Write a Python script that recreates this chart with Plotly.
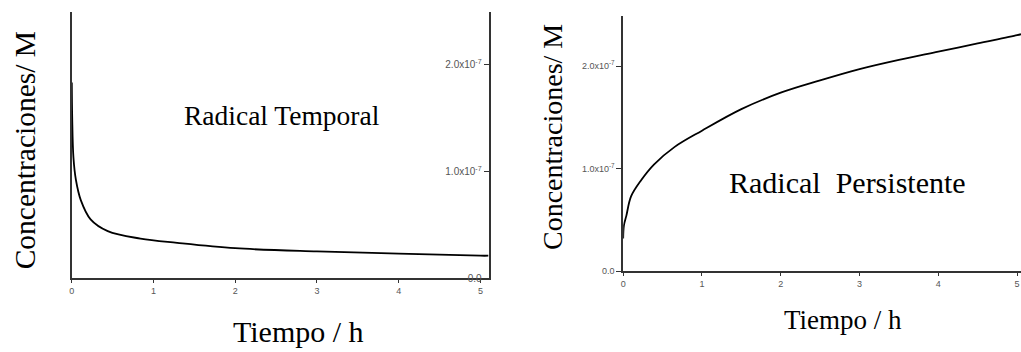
import plotly.graph_objects as go

# ---- data ----
t_temporal = [0, 0.005, 0.02, 0.05, 0.11, 0.23, 0.44, 0.84, 1.29, 2.0, 3.0, 4.0, 5.0, 5.1]
c_temporal = [1.83e-7, 1.50e-7, 1.13e-7, 0.92e-7, 0.73e-7, 0.55e-7, 0.44e-7, 0.37e-7,
              0.33e-7, 0.28e-7, 0.25e-7, 0.23e-7, 0.21e-7, 0.21e-7]

t_persist = [0, 0.01, 0.04, 0.1, 0.23, 0.39, 0.65, 1.0, 1.5, 2.0, 2.5, 3.0, 3.5, 4.0, 4.5, 5.0, 5.05]
c_persist = [0.32e-7, 0.45e-7, 0.54e-7, 0.73e-7, 0.89e-7, 1.04e-7, 1.21e-7, 1.37e-7, 1.58e-7,
             1.74e-7, 1.86e-7, 1.97e-7, 2.06e-7, 2.14e-7, 2.22e-7, 2.30e-7, 2.31e-7]

x_ticks = [0, 1, 2, 3, 4, 5]
x_ticklabels = ["0", "1", "2", "3", "4", "5"]
y_ticks = [0, 1e-7, 2e-7]
y_ticklabels = ["0.0", "1.0x10<sup>-7</sup>", "2.0x10<sup>-7</sup>"]

W, H = 1021, 352
def px(x):
    return x / W
def py(y):
    return 1 - y / H

fig = go.Figure()
fig.add_trace(go.Scatter(x=t_temporal, y=c_temporal, mode="lines", line=dict(color="black", width=1.8, shape="spline"),
                         xaxis="x", yaxis="y", showlegend=False))
# same series bound to the label axis of the left panel (invisible) so that axis is drawn
fig.add_trace(go.Scatter(x=t_temporal, y=c_temporal, mode="lines", line=dict(color="rgba(0,0,0,0)", width=0),
                         xaxis="x", yaxis="y3", showlegend=False, hoverinfo="skip"))
fig.add_trace(go.Scatter(x=t_persist, y=c_persist, mode="lines", line=dict(color="black", width=1.8, shape="spline"),
                         xaxis="x2", yaxis="y2", showlegend=False))

xtickfont = dict(family="Liberation Sans, Arial", size=9, color="#555")
ytickfont_l = dict(family="Liberation Sans, Arial", size=10, color="#555")
ytickfont_r = dict(family="Liberation Sans, Arial", size=9, color="#555")
axline = dict(showline=True, linecolor="#333", linewidth=1.5, showgrid=False, zeroline=False, tickcolor="#333")
yr = [0, 2.49e-7]

fig.update_layout(
    width=W, height=H,
    margin=dict(l=0, r=0, t=0, b=0),
    paper_bgcolor="white", plot_bgcolor="white",
    xaxis=dict(domain=[px(69), px(487)], anchor="y", range=[0, 5.1], tickvals=x_ticks, ticktext=x_ticklabels,
               ticks="outside", ticklen=3, tickfont=xtickfont, **axline),
    # frame lines of the left panel (right axis line + mirrored left line)
    yaxis=dict(domain=[py(283), py(12)], anchor="x", side="right", range=yr, tickvals=y_ticks,
               showticklabels=False, ticks="", mirror=True, **axline),
    # tick labels of the left panel, drawn just left of its right-hand axis line
    yaxis3=dict(overlaying="y", anchor="free", position=px(487), side="left", range=yr, tickvals=y_ticks,
                ticktext=y_ticklabels, ticks="outside", ticklen=5, tickcolor="#333", tickwidth=1,
                showline=False, showgrid=False, zeroline=False, tickfont=ytickfont_l),
    xaxis2=dict(domain=[px(622), 1.0], anchor="y2", range=[0, 5.05], tickvals=x_ticks, ticktext=x_ticklabels,
                ticks="outside", ticklen=3, tickfont=xtickfont, **axline),
    yaxis2=dict(domain=[py(276), py(16)], anchor="x2", side="left", range=yr, tickvals=y_ticks,
                ticktext=y_ticklabels, ticks="outside", ticklen=5, tickfont=ytickfont_r, **axline),
)

serif = "Liberation Serif, Times New Roman, serif"
ann = [
    dict(text="Radical Temporal", x=px(280), y=py(118), size=27.5, angle=0),
    dict(text="Radical&nbsp;&nbsp;Persistente", x=px(847), y=py(186), size=30, angle=0),
    dict(text="Concentraciones/ M", x=px(22), y=py(153), size=29.5, angle=-90),
    dict(text="Concentraciones/ M", x=px(551), y=py(139), size=28, angle=-90),
    dict(text="Tiempo / h", x=px(296), y=py(337), size=30, angle=0),
    dict(text="Tiempo / h", x=px(842), y=py(326), size=27, angle=0),
]
for a in ann:
    fig.add_annotation(text=a["text"], x=a["x"], y=a["y"], xref="paper", yref="paper",
                       xanchor="center", yanchor="middle", showarrow=False, textangle=a["angle"],
                       font=dict(family=serif, size=a["size"], color="black"))

fig.write_html("out.html", config={"displayModeBar": False},
               post_script="document.body.style.margin='0';")
